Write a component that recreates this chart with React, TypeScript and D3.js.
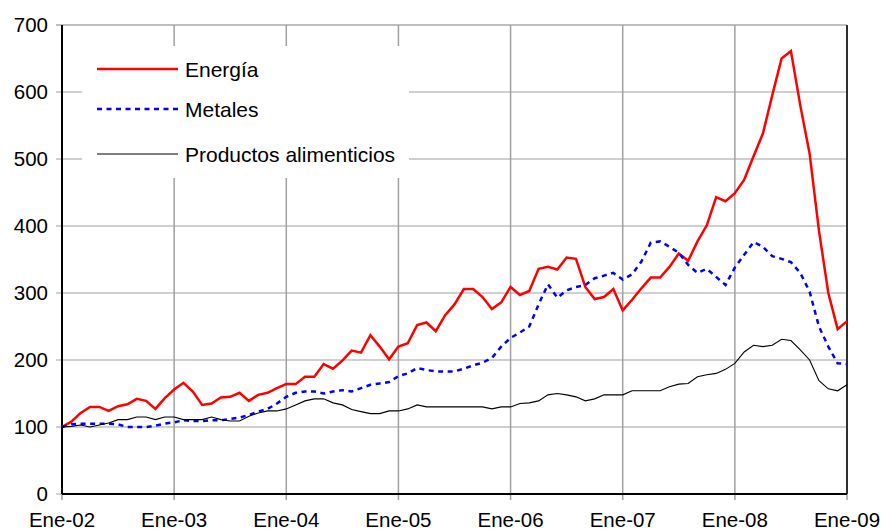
import * as d3 from 'd3';

// monthly index values, Ene-02 .. Ene-09 (base Ene-02 = 100)
const energia = [
  100, 108, 121, 130, 130, 124, 131, 134, 142, 139, 127, 143,
  156, 166, 153, 133, 135, 144, 145, 151, 139, 148, 151, 158,
  164, 164, 175, 175, 194, 187, 199, 214, 211, 237, 220, 201,
  220, 225, 252, 256, 243, 267, 283, 306, 306, 294, 276, 286,
  309, 297, 303, 336, 339, 335, 353, 351, 309, 291, 294, 306,
  274, 290, 307, 323, 323, 339, 359, 348, 377, 401, 443, 437,
  449, 469, 504, 538, 595, 650, 661, 580, 508, 393, 300, 246,
  258,
];

const metales = [
  100, 104, 105, 105, 105, 105, 104, 100, 100, 100, 102, 105,
  107, 110, 109, 109, 110, 110, 112, 114, 118, 123, 127, 135,
  145, 151, 153, 153, 150, 153, 155, 153, 158, 163, 165, 167,
  176, 180, 188, 185, 183, 183, 183, 187, 192, 196, 203, 220,
  233, 241, 250, 283, 313, 293, 304, 309, 312, 322, 326, 330,
  320, 328, 347, 375, 377, 369, 360, 342, 330, 336, 324, 312,
  338, 357, 376, 369, 355, 351, 346, 330, 302, 250, 220, 195,
  194,
];

const alimentos = [
  100, 101, 103, 100, 103, 106, 111, 111, 115, 115, 111, 115,
  115, 111, 111, 111, 115, 111, 109, 109, 116, 121, 124, 124,
  127, 133, 139, 142, 142, 136, 133, 126, 123, 120, 120, 124,
  124, 127, 133, 130, 130, 130, 130, 130, 130, 130, 127, 130,
  130, 135, 136, 139, 148, 150, 148, 145, 139, 142, 148, 148,
  148, 154, 154, 154, 154, 160, 164, 165, 175, 178, 180, 186,
  195, 212, 222, 220, 222, 231, 229, 215, 200, 169, 157, 154,
  163,
];

const yearLabels = ['Ene-02', 'Ene-03', 'Ene-04', 'Ene-05', 'Ene-06', 'Ene-07', 'Ene-08', 'Ene-09'];
const yTicks = [0, 100, 200, 300, 400, 500, 600, 700];

const series = [
  { name: 'Energía', values: energia, color: '#ff0000', width: 2.5, dash: '' },
  { name: 'Metales', values: metales, color: '#0000ff', width: 2.5, dash: '5,4.5' },
  { name: 'Productos alimenticios', values: alimentos, color: '#000000', width: 1.1, dash: '' },
];

const W = 881;
const H = 532;
const margin = { top: 25, right: 34, bottom: 38, left: 62 };
const FONT = '"Liberation Sans", Arial, sans-serif';

export default function App() {
  const x = d3.scaleLinear().domain([0, 84]).range([margin.left, W - margin.right]);
  const y = d3.scaleLinear().domain([0, 700]).range([H - margin.bottom, margin.top]);
  const line = d3.line<number>().x((_, i) => x(i)).y(d => y(d));

  const gridColor = '#a0a0a0';
  const left = x(0);
  const right = x(84);
  const top = y(700);
  const bottom = y(0);

  // legend box (white, covers gridlines)
  const lg = { x: 82, y: 46, w: 327, h: 132 };
  const legendRows = [69, 109, 154];

  return (
    <svg width={W} height={H} style={{ position: 'absolute', left: 0, top: 0, background: '#fff' }}
      fontFamily={FONT}>
      {/* horizontal gridlines + left ticks */}
      {yTicks.map(t => (
        <line key={'h' + t} x1={left - 6} x2={right} y1={y(t)} y2={y(t)}
          stroke={t === 700 ? '#808080' : gridColor} strokeWidth={1.2} />
      ))}
      {/* vertical gridlines + bottom ticks */}
      {yearLabels.map((_, k) => (
        <line key={'v' + k} x1={x(k * 12)} x2={x(k * 12)} y1={top} y2={bottom + 6}
          stroke={gridColor} strokeWidth={1.5} />
      ))}
      <rect x={lg.x} y={lg.y} width={lg.w} height={lg.h} fill="#fff" />

      {/* axes */}
      <line x1={left} x2={left} y1={top} y2={bottom} stroke="#000" strokeWidth={2} />
      <line x1={right} x2={right} y1={top} y2={bottom} stroke="#000" strokeWidth={1.5} />
      <line x1={left} x2={right} y1={bottom} y2={bottom} stroke="#000" strokeWidth={2} />

      {/* series */}
      {series.map(s => (
        <path key={s.name} d={line(s.values) ?? ''} fill="none" stroke={s.color}
          strokeWidth={s.width} strokeDasharray={s.dash || undefined} strokeLinejoin="miter" />
      ))}

      {/* tick labels */}
      {yTicks.map(t => (
        <text key={'yl' + t} x={48} y={y(t)} dy="0.36em" textAnchor="end" fontSize={20.5} fill="#000">{t}</text>
      ))}
      {yearLabels.map((lab, k) => (
        <text key={'xl' + lab} x={x(k * 12)} y={527} textAnchor="middle" fontSize={20.5} fill="#000">{lab}</text>
      ))}

      {/* legend */}
      {series.map((s, i) => (
        <g key={'lg' + s.name}>
          <line x1={97} x2={178} y1={legendRows[i]} y2={legendRows[i]} stroke={s.color}
            strokeWidth={s.name === 'Productos alimenticios' ? 1.1 : s.width}
            strokeDasharray={s.dash || undefined} />
          <text x={185} y={legendRows[i]} dy="0.36em" fontSize={21} fill="#000">{s.name}</text>
        </g>
      ))}
    </svg>
  );
}
